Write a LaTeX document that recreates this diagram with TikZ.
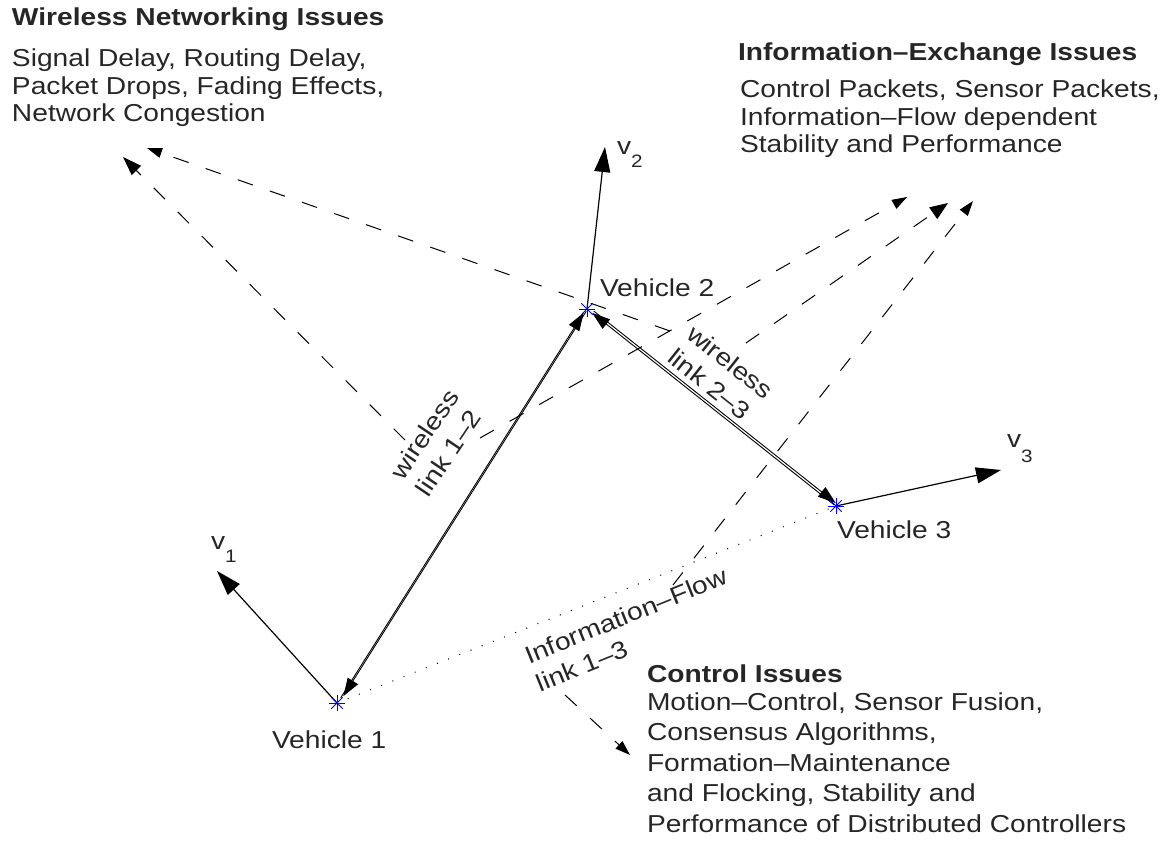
\documentclass[tikz,border=0pt]{standalone}
\usepackage{fontspec}
\setmainfont{Liberation Sans}[FakeStretch=1.15]
\usetikzlibrary{arrows.meta}
\definecolor{txt}{RGB}{38,38,38}
\newcommand{\mlines}[1]{\begin{tabular}[t]{@{}l@{}}#1\end{tabular}}
\begin{document}
\begin{tikzpicture}[x=1pt,y=-1pt,
  every node/.style={inner sep=0pt,outer sep=0pt,text=txt},
  body/.style={font=\fontsize{24.5}{27.3}\selectfont,anchor=base west},
  bodyw/.style={font=\fontsize{24.5}{30.5}\selectfont,anchor=base west},
  ttl/.style={font=\bfseries\fontsize{24.5}{27}\selectfont,anchor=base west},
  vel/.style={line width=1.2pt,-{Triangle[length=25pt,width=16pt]}},
  lnk/.style={line width=0.9pt,-{Triangle[length=18pt,width=12pt]}},
  dsh/.style={line width=1pt,dash pattern=on 16pt off 18pt,-{Triangle[length=15pt,width=10pt]}},
  dott/.style={line width=1.4pt,line cap=round,dash pattern=on 0pt off 12pt},
  ast/.style={blue,line width=0.9pt}
]
\path[use as bounding box] (0,0) rectangle (1160,845);

% vehicles
\coordinate (V1) at (337,703);
\coordinate (V2) at (587,309);
\coordinate (V3) at (836,506);
% velocity tips
\coordinate (T1) at (217,571);
\coordinate (T2) at (605,147);
\coordinate (T3) at (1001,470);
% link end points
\coordinate (L12a) at (342,697);
\coordinate (L12b) at (585,312);
\coordinate (L23a) at (593,312);
\coordinate (L23b) at (835,504);
% dashed arrows start / tip
\coordinate (SA) at (405,440);  \coordinate (TA) at (123,157);
\coordinate (SB) at (670,331);  \coordinate (TB) at (147,148);
\coordinate (SC) at (480,438);  \coordinate (TC) at (907,197);
\coordinate (SD) at (746,343);  \coordinate (TD) at (948,203);
\coordinate (SE) at (673,585);  \coordinate (TE) at (973,201);
\coordinate (SF) at (565,695);  \coordinate (TF) at (630,755);

% dotted information-flow link 1-3
\draw[dott] (V1) -- (V3);

% dashed arrows
\draw[dsh,-{Triangle[length=19pt,width=13pt]}] (SA) -- (TA);
\draw[dsh] (SB) -- (TB);
\draw[dsh] (SC) -- (TC);
\draw[dsh,-{Triangle[length=18pt,width=14pt]}] (SD) -- (TD);
\draw[dsh] (SE) -- (TE);
\draw[dsh] (SF) -- (TF);

% wireless links (double lines)
\draw[lnk,transform canvas={shift={(-1.3pt,-0.82pt)}}] (L12a) -- (L12b);
\draw[lnk,transform canvas={shift={(1.3pt,0.82pt)}}] (L12b) -- (L12a);
\draw[lnk,transform canvas={shift={(0.75pt,0.94pt)}}] (L23a) -- (L23b);
\draw[lnk,transform canvas={shift={(-0.75pt,-0.94pt)}}] (L23b) -- (L23a);

% velocity vectors
\draw[vel] (V1) -- (T1);
\draw[vel] (V2) -- (T2);
\draw[vel] (V3) -- (T3);

% vehicle markers
\foreach \v in {V1,V2,V3}{
  \foreach \a in {0,45,...,315}{\draw[ast] (\v) -- ++(\a:8);}
}

% labels
\node[body] (lv1) at (211,549) {v\raisebox{-13pt}{\fontsize{18}{18}\selectfont 1}};
\node[body] (lv2) at (617,155) {v\raisebox{-13pt}{\fontsize{18}{18}\selectfont 2}};
\node[body] (lv3) at (1007,447) {v\raisebox{-15pt}{\fontsize{18}{18}\selectfont 3}};

\node[body] (n1) at (272,748) {Vehicle 1};
\node[body] (n2) at (600,297) {Vehicle 2};
\node[body] (n3) at (837,538) {Vehicle 3};

\node[bodyw,rotate=56] (w12) at (403,481) {\mlines{wireless\\link 1–2}};
\node[bodyw,rotate=-38.5] (w23) at (685,337) {\mlines{wireless\\link 2–3}};
\node[bodyw,rotate=22] (if13) at (529,664) {\mlines{Information–Flow\\link 1–3}};

\node[ttl] (wnt) at (12,26) {Wireless Networking Issues};
\node[body] (wnb) at (12,67) {\mlines{Signal Delay, Routing Delay,\\Packet Drops, Fading Effects,\\Network Congestion}};

\node[ttl] (iet) at (738,61) {Information–Exchange Issues};
\node[body] (ieb) at (740,98) {\mlines{Control Packets, Sensor Packets,\\Information–Flow dependent\\Stability and Performance}};

\node[ttl] (cit) at (647,682) {Control Issues};
\node[bodyw] (cib) at (647,710) {\mlines{Motion–Control, Sensor Fusion,\\Consensus Algorithms,\\Formation–Maintenance\\and Flocking, Stability and\\Performance of Distributed Controllers}};
\end{tikzpicture}
\end{document}
